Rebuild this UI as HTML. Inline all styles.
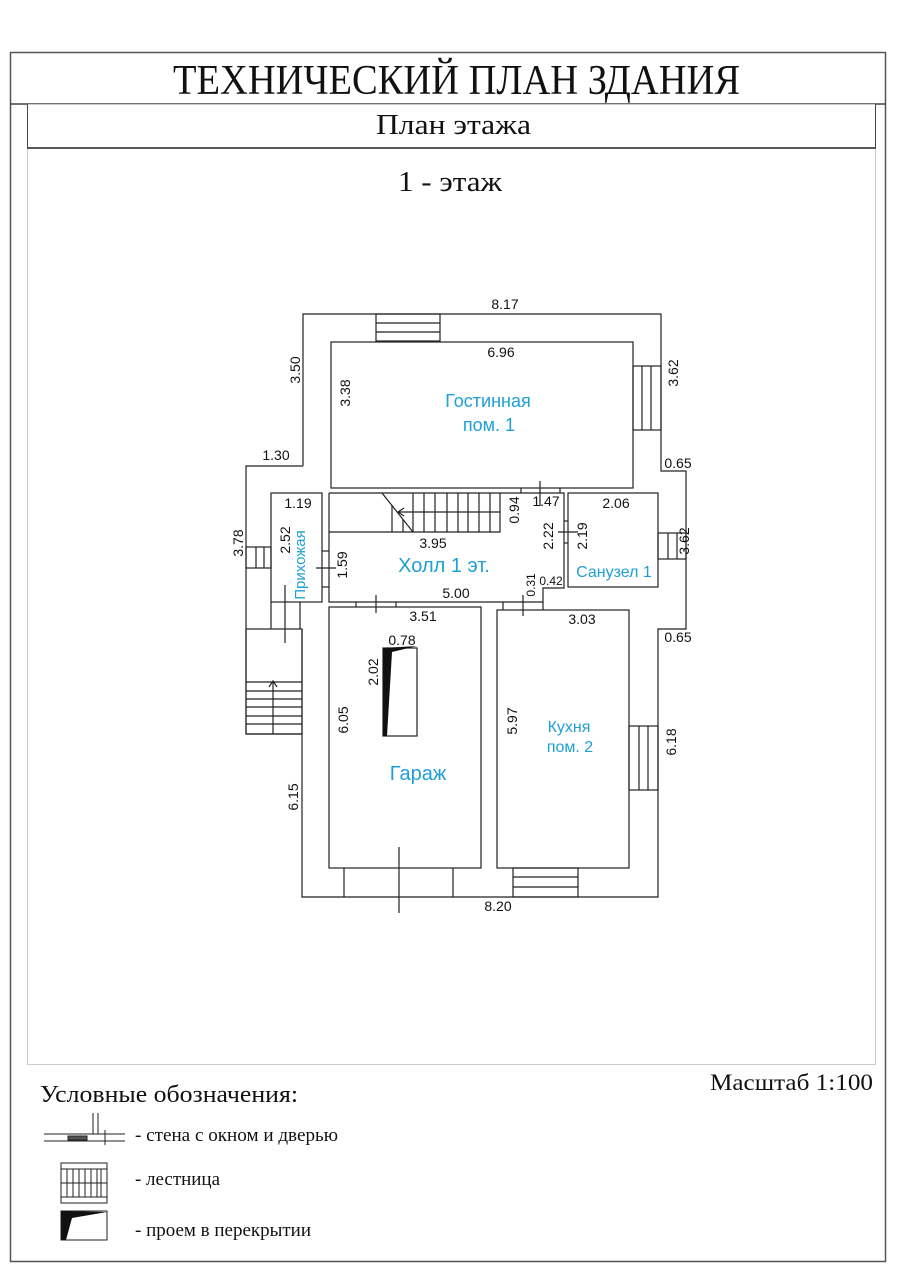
<!DOCTYPE html>
<html><head><meta charset="utf-8"><style>
html,body{margin:0;padding:0;background:#fff}
svg{display:block}
.d{font-family:"Liberation Sans",sans-serif;font-size:14px;fill:#111}
.r{font-family:"Liberation Sans",sans-serif;fill:#1ea0d6}
.s{font-family:"Liberation Serif",serif;fill:#111}
</style></head><body>
<svg width="904" height="1280" viewBox="0 0 904 1280" xmlns="http://www.w3.org/2000/svg">
<rect x="0" y="0" width="904" height="1280" fill="#fff"/>
<rect x="10.5" y="52.5" width="875" height="1209" fill="none" stroke="#555" stroke-width="1.5"/>
<line x1="10" y1="104" x2="886" y2="104" stroke="#444" stroke-width="1.5"/>
<rect x="27.5" y="104.5" width="848" height="960" fill="none" stroke="#ccc" stroke-width="1"/>
<line x1="27" y1="148" x2="876" y2="148" stroke="#222" stroke-width="1.5"/>
<line x1="27.5" y1="104" x2="27.5" y2="148" stroke="#444"/>
<line x1="875.5" y1="104" x2="875.5" y2="148" stroke="#444"/>
<text class="s" x="173" y="94" font-size="42" textLength="567" lengthAdjust="spacingAndGlyphs">ТЕХНИЧЕСКИЙ ПЛАН ЗДАНИЯ</text>
<text class="s" x="376" y="134" font-size="28" textLength="155" lengthAdjust="spacingAndGlyphs">План этажа</text>
<text class="s" x="398" y="191" font-size="28" textLength="104" lengthAdjust="spacingAndGlyphs">1 - этаж</text>

<g fill="none" stroke="#222" stroke-width="1.2">
<polyline points="303,466 303,314 661,314 661,471 686,471 686,629 658,629 658,897 302,897 302,629"/>
<polyline points="303,466 246,466 246,734 302,734"/>
<rect x="331" y="342" width="302" height="146"/>
<rect x="376" y="314" width="64" height="27"/>
<line x1="376" y1="323" x2="440" y2="323"/><line x1="376" y1="332" x2="440" y2="332"/>
<rect x="633" y="366" width="28" height="64"/>
<line x1="642" y1="366" x2="642" y2="430"/><line x1="651" y1="366" x2="651" y2="430"/>
<polyline points="329,493 564,493 564,588 543,588 543,602 329,602 329,493"/>
<polyline points="329,532 500,532 500,493"/>
<line x1="382" y1="493" x2="413" y2="532"/>
<g>
<line x1="392" y1="505" x2="392" y2="532"/><line x1="403" y1="519" x2="403" y2="532"/>
<line x1="413" y1="493" x2="413" y2="532"/><line x1="424" y1="493" x2="424" y2="532"/>
<line x1="435" y1="493" x2="435" y2="532"/><line x1="447" y1="493" x2="447" y2="532"/>
<line x1="458" y1="493" x2="458" y2="532"/><line x1="468" y1="493" x2="468" y2="532"/>
<line x1="479" y1="493" x2="479" y2="532"/><line x1="490" y1="493" x2="490" y2="532"/>
</g>
<line x1="500" y1="512" x2="398" y2="512"/>
<polyline points="404,508 398,512 404,516"/>
<line x1="540" y1="481" x2="540" y2="506"/>
<line x1="521" y1="488" x2="521" y2="493"/><line x1="560" y1="488" x2="560" y2="493"/>
<rect x="271" y="493" width="51" height="109"/>
<rect x="246" y="547" width="25" height="21"/>
<line x1="256" y1="547" x2="256" y2="568"/><line x1="264" y1="547" x2="264" y2="568"/>
<line x1="316" y1="568" x2="336" y2="568"/>
<line x1="322" y1="551" x2="329" y2="551"/><line x1="322" y1="587" x2="329" y2="587"/>
<line x1="271" y1="602" x2="271" y2="629"/><line x1="300" y1="602" x2="300" y2="629"/>
<line x1="285" y1="585" x2="285" y2="643"/>
<rect x="568" y="493" width="90" height="94"/>
<rect x="658" y="533" width="28" height="26"/>
<line x1="668" y1="533" x2="668" y2="559"/><line x1="677" y1="533" x2="677" y2="559"/>
<line x1="558" y1="532" x2="578" y2="532"/>
<line x1="564" y1="521" x2="568" y2="521"/><line x1="564" y1="543" x2="568" y2="543"/>
<rect x="246" y="629" width="56" height="105"/>
<line x1="246" y1="682" x2="302" y2="682"/><line x1="246" y1="691" x2="302" y2="691"/>
<line x1="246" y1="699" x2="302" y2="699"/><line x1="246" y1="707" x2="302" y2="707"/>
<line x1="246" y1="716" x2="302" y2="716"/><line x1="246" y1="724" x2="302" y2="724"/>
<line x1="273" y1="734" x2="273" y2="681"/>
<polyline points="269,687 273,681 277,687"/>
<rect x="329" y="607" width="152" height="261"/>
<line x1="344" y1="868" x2="344" y2="897"/><line x1="453" y1="868" x2="453" y2="897"/>
<line x1="399" y1="847" x2="399" y2="913"/>
<line x1="376" y1="595" x2="376" y2="613"/>
<line x1="356" y1="602" x2="356" y2="607"/><line x1="396" y1="602" x2="396" y2="607"/>
<rect x="383" y="648" width="34" height="88"/>
<rect x="497" y="610" width="132" height="258"/>
<rect x="629" y="726" width="29" height="64"/>
<line x1="639" y1="726" x2="639" y2="790"/><line x1="648" y1="726" x2="648" y2="790"/>
<rect x="513" y="868" width="65" height="29"/>
<line x1="513" y1="877" x2="578" y2="877"/><line x1="513" y1="887" x2="578" y2="887"/>
<line x1="503" y1="602" x2="503" y2="610"/><line x1="543" y1="602" x2="543" y2="610"/>
<line x1="523" y1="595" x2="523" y2="616"/>
</g>
<polygon points="383,648 417,646 392,652 387,736 383,736" fill="#111"/>

<g class="d" text-anchor="middle">
<text x="505" y="309">8.17</text>
<text x="501" y="357">6.96</text>
<text x="276" y="460">1.30</text>
<text x="678" y="468">0.65</text>
<text x="298" y="508">1.19</text>
<text x="433" y="548">3.95</text>
<text x="546" y="506">1.47</text>
<text x="616" y="508">2.06</text>
<text x="551" y="585" font-size="12">0.42</text>
<text x="456" y="598">5.00</text>
<text x="423" y="621">3.51</text>
<text x="582" y="624">3.03</text>
<text x="678" y="642">0.65</text>
<text x="402" y="645">0.78</text>
<text x="498" y="911">8.20</text>
<text transform="translate(300,370) rotate(-90)">3.50</text>
<text transform="translate(350,393) rotate(-90)">3.38</text>
<text transform="translate(678,373) rotate(-90)">3.62</text>
<text transform="translate(290,540) rotate(-90)">2.52</text>
<text transform="translate(243,543) rotate(-90)">3.78</text>
<text transform="translate(347,565) rotate(-90)">1.59</text>
<text transform="translate(519,510) rotate(-90)">0.94</text>
<text transform="translate(553,536) rotate(-90)">2.22</text>
<text transform="translate(587,536) rotate(-90)">2.19</text>
<text transform="translate(689,541) rotate(-90)">3.62</text>
<text transform="translate(535,585) rotate(-90)" font-size="12">0.31</text>
<text transform="translate(378,672) rotate(-90)">2.02</text>
<text transform="translate(348,720) rotate(-90)">6.05</text>
<text transform="translate(517,721) rotate(-90)">5.97</text>
<text transform="translate(676,742) rotate(-90)">6.18</text>
<text transform="translate(298,797) rotate(-90)">6.15</text>
</g>
<g class="r" text-anchor="middle">
<text x="488" y="407" font-size="18">Гостинная</text>
<text x="489" y="431" font-size="18">пом. 1</text>
<text x="444" y="572" font-size="20">Холл 1 эт.</text>
<text x="614" y="577" font-size="16">Санузел 1</text>
<text transform="translate(305,565) rotate(-90)" font-size="15">Прихожая</text>
<text x="569" y="732" font-size="16">Кухня</text>
<text x="570" y="752" font-size="16">пом. 2</text>
<text x="418" y="780" font-size="20">Гараж</text>
</g>

<text class="s" x="40" y="1102" font-size="24" textLength="258" lengthAdjust="spacingAndGlyphs">Условные обозначения:</text>
<text class="s" x="710" y="1090" font-size="23" textLength="163" lengthAdjust="spacingAndGlyphs">Масштаб 1:100</text>
<text class="s" x="135" y="1141" font-size="19" textLength="203" lengthAdjust="spacingAndGlyphs">- стена с окном и дверью</text>
<text class="s" x="135" y="1185" font-size="19" textLength="85" lengthAdjust="spacingAndGlyphs">- лестница</text>
<text class="s" x="135" y="1236" font-size="19" textLength="176" lengthAdjust="spacingAndGlyphs">- проем в перекрытии</text>
<g fill="none" stroke="#222" stroke-width="1">
<line x1="44" y1="1134" x2="125" y2="1134"/><line x1="44" y1="1141" x2="125" y2="1141"/>
<rect x="68" y="1136" width="19" height="4" fill="#555"/>
<line x1="93" y1="1113" x2="93" y2="1134"/><line x1="98" y1="1113" x2="98" y2="1134"/>
<line x1="105" y1="1130" x2="105" y2="1145"/>
<rect x="61" y="1163" width="46" height="40"/>
<line x1="61" y1="1169" x2="107" y2="1169"/><line x1="61" y1="1197" x2="107" y2="1197"/>
<line x1="67" y1="1169" x2="67" y2="1197"/><line x1="73" y1="1169" x2="73" y2="1197"/>
<line x1="79" y1="1169" x2="79" y2="1197"/><line x1="85" y1="1169" x2="85" y2="1197"/>
<line x1="91" y1="1169" x2="91" y2="1197"/><line x1="97" y1="1169" x2="97" y2="1197"/>
<line x1="101" y1="1169" x2="101" y2="1197"/>
<line x1="61" y1="1183" x2="107" y2="1183"/>
<rect x="61" y="1211" width="46" height="29"/>
</g>
<polygon points="61,1211 107,1212 72,1218 66,1240 61,1240" fill="#111"/>
</svg>
</body></html>
